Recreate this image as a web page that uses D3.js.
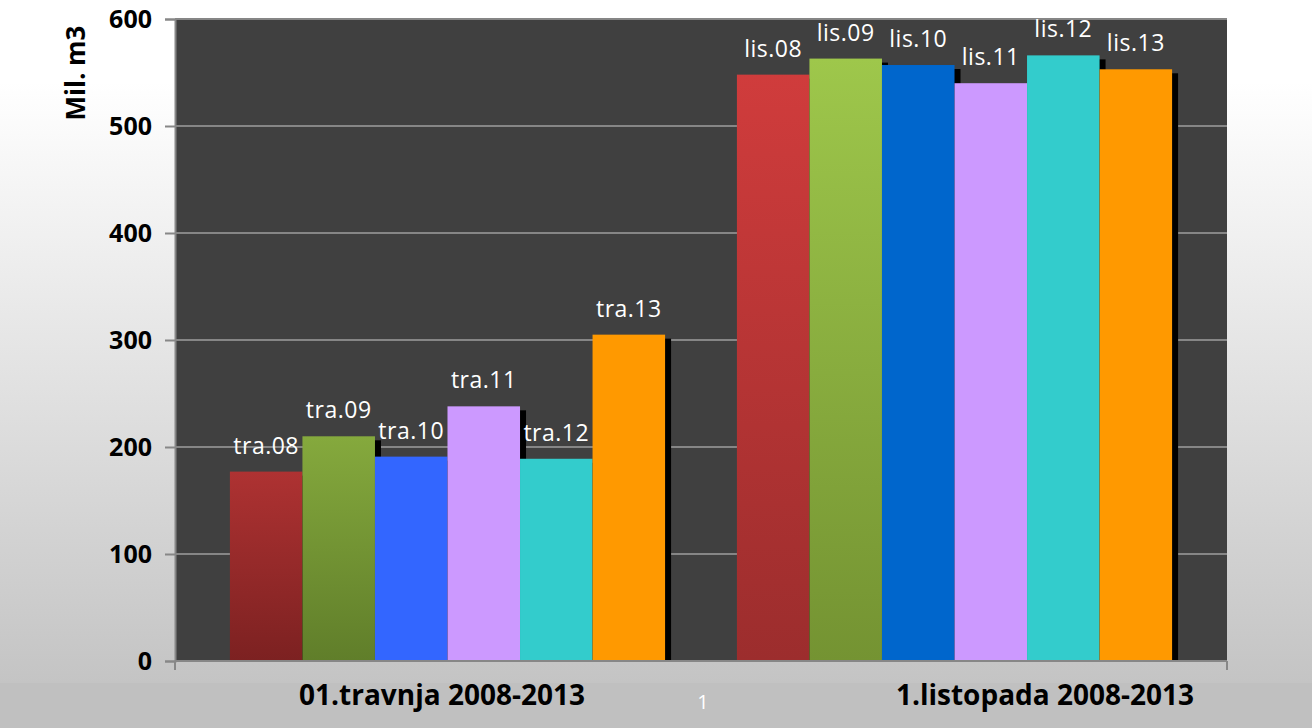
<!DOCTYPE html>
<html>
<head>
<meta charset="utf-8">
<script src="https://cdn.jsdelivr.net/npm/d3@7"></script>
<style>
  body { margin: 0; background: #fff; }
  svg { display: block; font-family: "Open Sans", sans-serif; }
</style>
</head>
<body>
<div id="chart"></div>
<script>
const categories = ["01.travnja 2008-2013", "1.listopada 2008-2013"];
const seriesKeys = ["08", "09", "10", "11", "12", "13"];
const travnjaValues = [177, 210, 191, 238, 189, 305];
const listopadaValues = [548, 563, 557, 540, 566, 553];
const barLabels = [
    ["tra.08", "tra.09", "tra.10", "tra.11", "tra.12", "tra.13"],
    ["lis.08", "lis.09", "lis.10", "lis.11", "lis.12", "lis.13"]
];
const yTicks = [0, 100, 200, 300, 400, 500, 600];

// colours per group: [top, bottom] for gradient bars, single value for flat ones
const barColors = [
    [["#ae3232", "#7c2121"], ["#85a93d", "#607e2a"], "#3366ff", "#cc99ff", "#33cccc", "#ff9900"],
    [["#d03c3c", "#9c2d2d"], ["#9ec74b", "#749332"], "#0066cc", "#cc99ff", "#33cccc", "#ff9900"]
];

const data = categories.map((c, i) => ({
    category: c,
    values: (i === 0 ? travnjaValues : listopadaValues).map((v, j) => ({
        key: seriesKeys[j], value: v, label: barLabels[i][j], color: barColors[i][j], gi: i, si: j
    }))
}));

const W = 1312, H = 728;
const plotLeft = 175, plotRight = 1227, plotTop = 19, plotBottom = 661;

const svg = d3.select("#chart").append("svg")
    .attr("width", W)
    .attr("height", H);

const defs = svg.append("defs");
const bg = defs.append("linearGradient").attr("id", "bg")
    .attr("x1", 0).attr("y1", 0).attr("x2", 0).attr("y2", 1);
bg.append("stop").attr("offset", "0%").attr("stop-color", "#ffffff");
bg.append("stop").attr("offset", "12%").attr("stop-color", "#ffffff");
bg.append("stop").attr("offset", "100%").attr("stop-color", "#c4c4c4");

svg.append("rect").attr("width", W).attr("height", 683).attr("fill", "url(#bg)");
svg.append("rect").attr("y", 683).attr("width", W).attr("height", H - 683).attr("fill", "#c0c0c0");

const x0 = d3.scaleBand()
    .domain(categories)
    .range([plotLeft, plotRight])
    .paddingInner(0.1417)
    .paddingOuter(0.1083);

const x1 = d3.scaleBand()
    .domain(seriesKeys)
    .range([0, x0.bandwidth()]);

const y = d3.scaleLinear()
    .domain([0, 600])
    .range([plotBottom, plotTop]);

// plot area
svg.append("rect")
    .attr("x", plotLeft).attr("y", y(600))
    .attr("width", plotRight - plotLeft).attr("height", y(0) - y(600))
    .attr("fill", "#404040");

// gridlines
svg.append("g").selectAll("line")
    .data(yTicks.filter(d => d > 0))
    .join("line")
    .attr("x1", plotLeft).attr("x2", plotRight)
    .attr("y1", d => y(d)).attr("y2", d => y(d))
    .attr("stroke", "#868686")
    .attr("stroke-width", 2);

// gradients for bars
data.forEach(g => g.values.forEach(d => {
    if (Array.isArray(d.color)) {
        const id = `g${d.gi}_${d.si}`;
        const lg = defs.append("linearGradient").attr("id", id)
            .attr("x1", 0).attr("y1", 0).attr("x2", 0).attr("y2", 1);
        lg.append("stop").attr("offset", "0%").attr("stop-color", d.color[0]);
        lg.append("stop").attr("offset", "100%").attr("stop-color", d.color[1]);
        d.fill = `url(#${id})`;
    } else {
        d.fill = d.color;
    }
}));

const groups = svg.append("g").selectAll("g")
    .data(data)
    .join("g")
    .attr("transform", d => `translate(${x0(d.category)},0)`);

// shadows
groups.selectAll("rect.shadow")
    .data(d => d.values)
    .join("rect")
    .attr("class", "shadow")
    .attr("x", d => x1(d.key) + 6)
    .attr("y", d => y(d.value) + 4)
    .attr("width", x1.bandwidth())
    .attr("height", d => y(0) - y(d.value) - 4)
    .attr("fill", "#000");

groups.selectAll("rect.bar")
    .data(d => d.values)
    .join("rect")
    .attr("class", "bar")
    .attr("x", d => x1(d.key))
    .attr("y", d => y(d.value))
    .attr("width", x1.bandwidth())
    .attr("height", d => y(0) - y(d.value))
    .attr("fill", d => d.fill);

groups.selectAll("text.lbl")
    .data(d => d.values)
    .join("text")
    .attr("class", "lbl")
    .attr("x", d => x1(d.key) + x1.bandwidth() / 2)
    .attr("y", d => y(d.value) - 18)
    .attr("text-anchor", "middle")
    .attr("fill", "#ffffff")
    .attr("font-size", 23)
    .attr("letter-spacing", 0.5)
    .text(d => d.label);

// y axis
const yAxis = svg.append("g")
    .attr("transform", `translate(${plotLeft},0)`)
    .call(d3.axisLeft(y).tickValues(yTicks).tickSize(10).tickPadding(13));
yAxis.select(".domain").attr("stroke", "#878787").attr("stroke-width", 2);
yAxis.selectAll(".tick line").attr("stroke", "#878787").attr("stroke-width", 2);
yAxis.selectAll(".tick text")
    .attr("fill", "#000")
    .attr("font-size", 25)
    .attr("font-weight", "bold")
    .attr("font-family", "Open Sans")
    .attr("dy", "0.34em");

// x axis line
svg.append("line")
    .attr("x1", plotLeft).attr("x2", plotRight)
    .attr("y1", y(0)).attr("y2", y(0))
    .attr("stroke", "#878787").attr("stroke-width", 2);
svg.append("g").selectAll("line")
    .data([plotLeft, plotRight])
    .join("line")
    .attr("x1", d => d).attr("x2", d => d)
    .attr("y1", y(0)).attr("y2", y(0) + 9)
    .attr("stroke", "#878787").attr("stroke-width", 2);

// category labels
const xLabel = d3.scalePoint().domain(categories).range([442, 1045]);
svg.append("g").selectAll("text")
    .data(categories)
    .join("text")
    .attr("x", d => xLabel(d))
    .attr("y", 705)
    .attr("text-anchor", "middle")
    .attr("font-size", 28)
    .attr("font-weight", "bold")
    .attr("fill", "#000")
    .text(d => d);

// y axis title
svg.append("text")
    .attr("transform", "translate(85,73) rotate(-90)")
    .attr("text-anchor", "middle")
    .attr("font-size", 26)
    .attr("font-weight", "bold")
    .attr("fill", "#000")
    .text("Mil. m3");

// page number
svg.append("text")
    .attr("x", 703).attr("y", 709)
    .attr("text-anchor", "middle")
    .attr("font-size", 20)
    .attr("fill", "#ffffff")
    .text("1");
</script>
</body>
</html>
